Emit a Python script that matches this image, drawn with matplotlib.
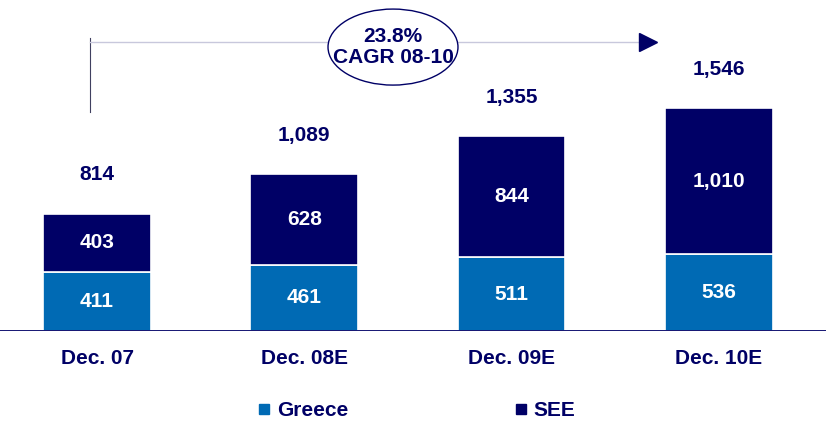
import matplotlib.pyplot as plt
from matplotlib.patches import Ellipse
from matplotlib.lines import Line2D

plt.rcParams['font.family'] = ['Liberation Sans', 'DejaVu Sans']

# data
categories = ["Dec. 07", "Dec. 08E", "Dec. 09E", "Dec. 10E"]
greece = [411, 461, 511, 536]
see = [403, 628, 844, 1010]
totals = [814, 1089, 1355, 1546]
cagr_text = "23.8%\nCAGR 08-10"

navy = "#000066"
blue = "#006ab4"
fs = 15

fig = plt.figure(figsize=(8.26, 4.21), dpi=100)
ax = fig.add_axes([0, 90 / 421, 1, 331 / 421])

x = range(len(categories))
ax.bar(x, greece, width=0.52, color=blue, edgecolor="white", linewidth=1.2)
ax.bar(x, see, width=0.52, bottom=greece, color=navy, edgecolor="white", linewidth=1.2)

for i in x:
    ax.text(i, greece[i] / 2, f"{greece[i]:,}", ha="center", va="center",
            color="white", fontsize=fs, fontweight="bold")
    ax.text(i, greece[i] + see[i] / 2, f"{see[i]:,}", ha="center", va="center",
            color="white", fontsize=fs, fontweight="bold")
    ax.text(i, totals[i] + 270, f"{totals[i]:,}", ha="center", va="center",
            color=navy, fontsize=fs, fontweight="bold")

ax.set_xlim(-0.468, 3.517)
ax.set_ylim(0, 2299)
ax.axhline(0, color=navy, linewidth=2)
for s in ax.spines.values():
    s.set_visible(False)
ax.set_yticks([])
ax.set_xticks(list(x))
ax.set_xticklabels(categories, fontsize=fs, fontweight="bold", color=navy)
ax.tick_params(axis="x", length=0, pad=13)

# CAGR arrow
ax.plot([-0.034, -0.034], [1521, 2035], color="#404060", linewidth=0.8, clip_on=False)
ax.plot([-0.034, 2.63], [2007, 2007], color="#c8c8dc", linewidth=1, clip_on=False)
ax.plot([2.66], [2007], marker=">", markersize=13, color=navy, clip_on=False)
ax.add_patch(Ellipse((1.428, 1972), 0.627, 528, facecolor="white",
                     edgecolor=navy, linewidth=1, zorder=3, clip_on=False))
ax.text(1.428, 1972, cagr_text, ha="center", va="center", color=navy,
        fontsize=fs, fontweight="bold", zorder=4, linespacing=1.1)

handles = [Line2D([], [], marker="s", linestyle="", color=blue, markersize=7),
           Line2D([], [], marker="s", linestyle="", color=navy, markersize=7)]
leg = fig.legend(handles, ["Greece", "SEE"], loc="center", bbox_to_anchor=(0.503, 0.024),
                 ncol=2, frameon=False, columnspacing=7.9, handletextpad=0.2,
                 handlelength=0.8, prop={"size": fs, "weight": "bold"})
for t in leg.get_texts():
    t.set_color(navy)

fig.savefig("out.png", dpi=100)
